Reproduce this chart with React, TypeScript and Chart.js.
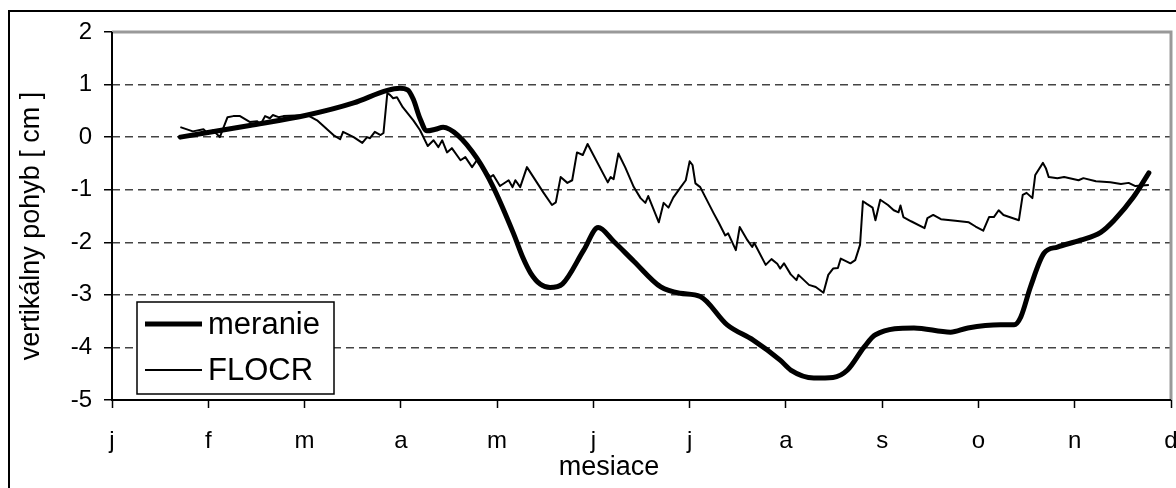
import React, { useEffect, useRef } from "react";
import { Chart, registerables } from "chart.js";

Chart.register(...registerables);

const MONTH_LABELS = ["j", "f", "m", "a", "m", "j", "j", "a", "s", "o", "n", "d"];
const Y_MIN = -5;
const Y_MAX = 2;
const X_MIN = 0;
const X_MAX = 11;

const Y_TITLE = "vertikálny pohyb [ cm ]";
const X_TITLE = "mesiace";
const SERIES_NAMES = ["meranie", "FLOCR"];

// meranie (measurement), x in months from 1 January
const MERANIE_X = [
  0.71, 1.43, 2.03, 2.51, 2.86, 2.99, 3.07, 3.13, 3.2, 3.27, 3.36, 3.44, 3.59, 3.79, 3.96,
  4.17, 4.27, 4.35, 4.45, 4.55, 4.68, 4.9, 5.05, 5.21, 5.42, 5.7, 5.9, 6.11, 6.39, 6.66,
  6.94, 7.05, 7.29, 7.49, 7.64, 7.81, 7.93, 8.33, 8.71, 8.89, 9.23, 9.37, 9.44, 9.54, 9.68,
  9.82, 10.06, 10.27, 10.41, 10.61, 10.77,
];
const MERANIE_Y = [
  0.0, 0.22, 0.42, 0.65, 0.89, 0.93, 0.9, 0.72, 0.35, 0.12, 0.15, 0.19, 0.04, -0.4, -0.95,
  -1.83, -2.3, -2.59, -2.8, -2.86, -2.79, -2.15, -1.72, -1.98, -2.36, -2.85, -2.97, -3.03, -3.57, -3.86,
  -4.24, -4.43, -4.58, -4.57, -4.43, -4.0, -3.76, -3.63, -3.71, -3.63, -3.57, -3.57, -3.42, -2.85, -2.21,
  -2.09, -1.96, -1.81, -1.58, -1.14, -0.68,
];

// FLOCR model
const FLOCR_X = [
  0.71, 0.84, 0.95, 0.99, 1.05, 1.12, 1.2, 1.26, 1.33, 1.43, 1.51, 1.54, 1.59, 1.64, 1.67,
  1.73, 1.78, 2.03, 2.13, 2.3, 2.37, 2.4, 2.51, 2.6, 2.65, 2.68, 2.73, 2.79, 2.82, 2.86,
  2.89, 2.92, 2.96, 3.02, 3.13, 3.2, 3.28, 3.34, 3.39, 3.43, 3.48, 3.53, 3.62, 3.67, 3.74,
  3.79, 3.93, 3.96, 4.03, 4.12, 4.16, 4.19, 4.24, 4.31, 4.48, 4.57, 4.61, 4.66, 4.73, 4.78,
  4.83, 4.89, 4.94, 5.15, 5.18, 5.21, 5.26, 5.33, 5.42, 5.49, 5.54, 5.57, 5.68, 5.73, 5.78,
  5.83, 5.9, 5.96, 6.0, 6.03, 6.06, 6.11, 6.25, 6.3, 6.37, 6.4, 6.48, 6.52, 6.6, 6.65,
  6.67, 6.79, 6.85, 6.91, 6.94, 6.98, 7.05, 7.11, 7.13, 7.24, 7.31, 7.39, 7.44, 7.49, 7.54,
  7.57, 7.67, 7.72, 7.77, 7.8, 7.84, 7.9, 7.93, 7.98, 8.06, 8.12, 8.17, 8.19, 8.22, 8.3,
  8.44, 8.47, 8.53, 8.61, 8.76, 8.9, 8.97, 9.05, 9.11, 9.16, 9.21, 9.26, 9.42, 9.46, 9.5,
  9.56, 9.59, 9.67, 9.7, 9.73, 9.82, 9.89, 10.04, 10.09, 10.22, 10.37, 10.48, 10.56, 10.63, 10.77,
];
const FLOCR_Y = [
  0.19, 0.11, 0.15, 0.08, 0.13, 0.0, 0.38, 0.4, 0.4, 0.29, 0.3, 0.23, 0.4, 0.36, 0.42,
  0.38, 0.4, 0.42, 0.32, 0.04, -0.04, 0.1, 0.0, -0.11, 0.0, -0.02, 0.1, 0.04, 0.08, 0.84,
  0.8, 0.74, 0.76, 0.57, 0.32, 0.13, -0.17, -0.06, -0.19, -0.06, -0.29, -0.21, -0.44, -0.38, -0.57,
  -0.44, -0.76, -0.72, -0.93, -0.82, -0.95, -0.82, -0.95, -0.57, -1.05, -1.29, -1.24, -0.76, -0.87, -0.82,
  -0.29, -0.34, -0.13, -0.86, -0.76, -0.8, -0.31, -0.57, -0.95, -1.16, -1.25, -1.12, -1.62, -1.25, -1.34,
  -1.15, -0.97, -0.82, -0.46, -0.53, -0.88, -0.95, -1.45, -1.62, -1.87, -1.83, -2.15, -1.71, -1.96, -2.09,
  -2.01, -2.43, -2.32, -2.41, -2.5, -2.4, -2.61, -2.72, -2.62, -2.81, -2.85, -2.96, -2.62, -2.5, -2.49,
  -2.31, -2.4, -2.34, -2.05, -1.22, -1.27, -1.34, -1.58, -1.19, -1.29, -1.39, -1.43, -1.3, -1.52, -1.6,
  -1.73, -1.54, -1.48, -1.56, -1.59, -1.62, -1.7, -1.78, -1.52, -1.52, -1.39, -1.48, -1.58, -1.1, -1.06,
  -1.16, -0.72, -0.49, -0.59, -0.76, -0.78, -0.76, -0.82, -0.78, -0.84, -0.86, -0.89, -0.87, -0.93, -0.91,
];

const FONT = "'Liberation Sans', Arial, sans-serif";

const decorPlugin = {
  id: "decor",
  beforeDraw(chart: any) {
    const { ctx, width, height } = chart;
    ctx.save();
    ctx.fillStyle = "#ffffff";
    ctx.fillRect(0, 0, width, height);
    ctx.restore();
  },
  afterDraw(chart: any) {
    const { ctx } = chart;
    const { left, right, top, bottom } = chart.chartArea;
    ctx.save();
    // plot area frame: gray top/right, black axes left/bottom
    ctx.strokeStyle = "#999999";
    ctx.lineWidth = 3;
    ctx.beginPath();
    ctx.moveTo(left, top);
    ctx.lineTo(right, top);
    ctx.lineTo(right, bottom);
    ctx.stroke();
    ctx.strokeStyle = "#000000";
    ctx.lineWidth = 2;
    ctx.beginPath();
    ctx.moveTo(left, top);
    ctx.lineTo(left, bottom);
    ctx.lineTo(right, bottom);
    ctx.stroke();
    // outer chart border
    ctx.lineWidth = 2;
    ctx.beginPath();
    ctx.moveTo(9, 600);
    ctx.lineTo(9, 11);
    ctx.lineTo(1300, 11);
    ctx.stroke();

    // axis titles
    ctx.fillStyle = "#000000";
    ctx.font = `27px ${FONT}`;
    ctx.textAlign = "center";
    ctx.textBaseline = "middle";
    ctx.fillText(X_TITLE, 609, 468);
    ctx.save();
    ctx.translate(32, 226);
    ctx.rotate(-Math.PI / 2);
    ctx.fillText(Y_TITLE, 0, 0);
    ctx.restore();

    // legend
    const ds = chart.data.datasets;
    ctx.fillStyle = "#ffffff";
    ctx.fillRect(137, 302, 197, 92);
    ctx.strokeStyle = "#000000";
    ctx.lineWidth = 1.5;
    ctx.strokeRect(137, 302, 197, 92);
    const rows = [324, 370];
    ds.forEach((d: any, i: number) => {
      ctx.strokeStyle = d.borderColor;
      ctx.lineWidth = d.borderWidth;
      ctx.lineCap = "butt";
      ctx.beginPath();
      ctx.moveTo(145, rows[i]);
      ctx.lineTo(202, rows[i]);
      ctx.stroke();
      ctx.fillStyle = "#000000";
      ctx.font = `31px ${FONT}`;
      ctx.textAlign = "left";
      ctx.textBaseline = "middle";
      ctx.fillText(d.label, 208, rows[i] + 1);
    });
    ctx.restore();
  },
};

export default function App() {
  const ref = useRef<HTMLCanvasElement>(null);

  useEffect(() => {
    if (!ref.current) return;
    const meranie = MERANIE_X.map((x, i) => ({ x, y: MERANIE_Y[i] }));
    const flocr = FLOCR_X.map((x, i) => ({ x, y: FLOCR_Y[i] }));
    const chart = new Chart(ref.current, {
      type: "line",
      data: {
        datasets: [
          {
            label: SERIES_NAMES[0],
            data: meranie,
            borderColor: "#000000",
            borderWidth: 5,
            pointRadius: 0,
            tension: 0.4,
            cubicInterpolationMode: "monotone",
            borderJoinStyle: "round",
            borderCapStyle: "round",
            fill: false,
          },
          {
            label: SERIES_NAMES[1],
            data: flocr,
            borderColor: "#000000",
            borderWidth: 2,
            pointRadius: 0,
            tension: 0,
            borderJoinStyle: "round",
            fill: false,
          },
        ],
      },
      options: {
        responsive: false,
        animation: false,
        devicePixelRatio: 1,
        layout: { padding: { top: 32, right: 5, left: 0, bottom: 0 } },
        plugins: { legend: { display: false }, tooltip: { enabled: false } },
        scales: {
          x: {
            type: "linear",
            min: X_MIN,
            max: X_MAX,
            afterFit: (s: any) => {
              s.height = 88;
              s.paddingLeft = 0;
              s.paddingRight = 0;
            },
            ticks: {
              stepSize: 1,
              autoSkip: false,
              maxRotation: 0,
              padding: 19,
              color: "#000000",
              font: { family: FONT, size: 24 },
              callback: (v: any) => MONTH_LABELS[Math.round(Number(v))] ?? "",
            },
            grid: {
              drawOnChartArea: false,
              drawTicks: true,
              tickLength: 8,
              tickColor: "#000000",
              tickWidth: 1.5,
            },
            border: { display: false },
          },
          y: {
            type: "linear",
            min: Y_MIN,
            max: Y_MAX,
            afterFit: (s: any) => {
              s.width = 112;
            },
            ticks: {
              stepSize: 1,
              padding: 12,
              color: "#000000",
              font: { family: FONT, size: 24 },
            },
            grid: {
              drawTicks: true,
              tickLength: 8,
              tickColor: "#000000",
              tickWidth: 1.5,
              lineWidth: 1.5,
              color: (c: any) =>
                c.tick && (c.tick.value === Y_MAX || c.tick.value === Y_MIN) ? "rgba(0,0,0,0)" : "#444444",
            },
            border: { display: false, dash: [8, 5] },
          },
        },
      },
      plugins: [decorPlugin],
    } as any);
    return () => chart.destroy();
  }, []);

  return (
    <div style={{ position: "fixed", left: 0, top: 0, width: 1176, height: 488, background: "#fff" }}>
      <canvas ref={ref} width={1176} height={488} style={{ display: "block", width: 1176, height: 488 }} />
    </div>
  );
}
